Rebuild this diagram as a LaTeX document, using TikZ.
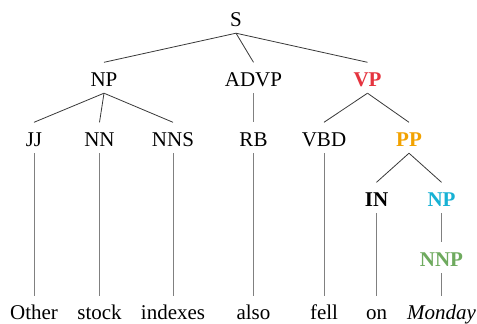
\documentclass[tikz,border=0pt]{standalone}
\usepackage{fontspec}
\setmainfont{Liberation Serif}
\definecolor{vpred}{HTML}{E5343F}
\definecolor{pporange}{HTML}{F2A200}
\definecolor{npcyan}{HTML}{17B1D4}
\definecolor{nnpgreen}{HTML}{6EAA5E}
\begin{document}
\begin{tikzpicture}[x=1pt,y=-1pt,
  lab/.style={anchor=base,inner xsep=0pt,inner ysep=7pt,text height=16.5pt,text depth=0pt,font=\fontsize{21}{25}\selectfont},
  blab/.style={lab,font=\fontsize{21}{25}\selectfont\bfseries},
  word/.style={anchor=base,inner xsep=0pt,inner ysep=0pt,text height=23pt,text depth=4pt,font=\fontsize{21}{25}\selectfont},
  branch/.style={draw=black!78,line width=0.8pt},
  stem/.style={draw=black!50,line width=0.8pt}]
\useasboundingbox (0,0) rectangle (477,324);
% labels
\node[lab] (S) at (236,26) {S};
\node[lab] (NP) at (104,86) {NP};
\node[lab] (ADVP) at (253.5,86) {ADVP};
\node[blab,text=vpred] (VP) at (367.5,86) {VP};
\node[lab] (JJ) at (34,146) {JJ};
\node[lab] (NN) at (99.5,146) {NN};
\node[lab] (NNS) at (173,146) {NNS};
\node[lab] (RB) at (253.5,146) {RB};
\node[lab] (VBD) at (324,146) {VBD};
\node[blab,text=pporange] (PP) at (409,146) {PP};
\node[blab] (IN) at (376.5,206) {IN};
\node[blab,text=npcyan] (NP2) at (441.5,206) {NP};
\node[blab,text=nnpgreen] (NNP) at (441.5,266) {NNP};
% words
\node[word] (w1) at (34,319.5) {Other};
\node[word] (w2) at (99.5,319.5) {stock};
\node[word] (w3) at (173,319.5) {indexes};
\node[word] (w4) at (253.5,319.5) {also};
\node[word] (w5) at (324,319.5) {fell};
\node[word] (w6) at (376.5,319.5) {on};
\node[word] (w7) at (441.5,319.5) {\itshape Monday};
% branches
\draw[branch] (S.south) -- (NP.north);
\draw[branch] (S.south) -- (ADVP.north);
\draw[branch] (S.south) -- (VP.north);
\draw[branch] (NP.south) -- (JJ.north);
\draw[branch] (NP.south) -- (NN.north);
\draw[branch] (NP.south) -- (NNS.north);
\draw[stem] (ADVP.south) -- (RB.north);
\draw[branch] (VP.south) -- (VBD.north);
\draw[branch] (VP.south) -- (PP.north);
\draw[branch] (PP.south) -- (IN.north);
\draw[branch] (PP.south) -- (NP2.north);
\draw[stem] (NP2.south) -- (NNP.north);
% leaves
\draw[stem] (JJ.south) -- (w1.north);
\draw[stem] (NN.south) -- (w2.north);
\draw[stem] (NNS.south) -- (w3.north);
\draw[stem] (RB.south) -- (w4.north);
\draw[stem] (VBD.south) -- (w5.north);
\draw[stem] (IN.south) -- (w6.north);
\draw[stem] (NNP.south) -- (w7.north);
\end{tikzpicture}
\end{document}
